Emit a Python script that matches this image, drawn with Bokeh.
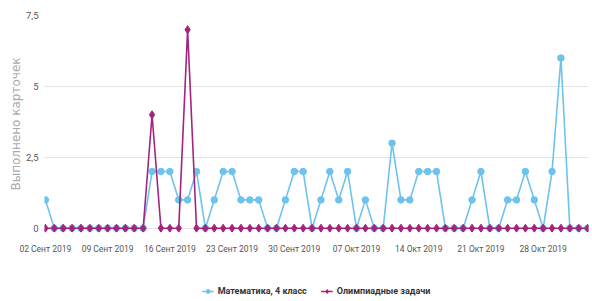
import pandas as pd
from bokeh.plotting import figure
from bokeh.models import FixedTicker, Legend, LegendItem, Range1d
from bokeh.layouts import column
from bokeh.embed import file_html
from bokeh.resources import INLINE

# ---- data ----
dates = [d.strftime("%Y-%m-%d") for d in pd.date_range("2019-09-02", "2019-11-02")]
math_values = [1, 0, 0, 0, 0, 0, 0, 0, 0, 0, 0, 0, 2, 2, 2, 1, 1, 2, 0, 1,
               2, 2, 1, 1, 1, 0, 0, 1, 2, 2, 0, 1, 2, 1, 2, 0, 1, 0, 0, 3,
               1, 1, 2, 2, 2, 0, 0, 0, 1, 2, 0, 0, 1, 1, 2, 1, 0, 2, 6, 0,
               0, 0]
olymp_values = [0, 0, 0, 0, 0, 0, 0, 0, 0, 0, 0, 0, 4, 0, 0, 0, 7, 0, 0, 0,
                0, 0, 0, 0, 0, 0, 0, 0, 0, 0, 0, 0, 0, 0, 0, 0, 0, 0, 0, 0,
                0, 0, 0, 0, 0, 0, 0, 0, 0, 0, 0, 0, 0, 0, 0, 0, 0, 0, 0, 0,
                0, 0]
tick_dates = ["2019-09-02", "2019-09-09", "2019-09-16", "2019-09-23", "2019-09-30",
              "2019-10-07", "2019-10-14", "2019-10-21", "2019-10-28"]
tick_labels = ["02 Сент 2019", "09 Сент 2019", "16 Сент 2019", "23 Сент 2019",
               "30 Сент 2019", "07 Окт 2019", "14 Окт 2019", "21 Окт 2019", "28 Окт 2019"]
y_ticks = [0, 2.5, 5, 7.5]
y_tick_labels = ["0", "2,5", "5", "7,5"]
series_names = ["Математика, 4 класс", "Олимпиадные задачи"]
y_title = "Выполнено карточек"

BLUE = "#6cc3ee"
MAGENTA = "#a3237e"
FONT = "Roboto"
W = 590

x = list(range(len(dates)))

p = figure(width=W, height=282, output_backend="svg", toolbar_location=None,
           x_range=Range1d(-0.1, len(dates) - 1 + 0.1), y_range=Range1d(-0.15, 7.5),
           min_border_left=44, min_border_right=2, min_border_top=15, min_border_bottom=50)
p.outline_line_color = None
p.background_fill_color = "white"
p.border_fill_color = "white"

p.line(x, math_values, line_color=BLUE, line_width=1.6)
p.scatter(x, math_values, marker="circle", size=6.5, fill_color=BLUE, line_color=BLUE)
p.line(x, olymp_values, line_color=MAGENTA, line_width=1.6)
p.scatter(x, olymp_values, marker="diamond", size=8, fill_color=MAGENTA, line_color=MAGENTA)

# x axis
p.xaxis.ticker = FixedTicker(ticks=[dates.index(d) for d in tick_dates])
p.xaxis.major_label_overrides = {dates.index(d): lab for d, lab in zip(tick_dates, tick_labels)}
p.xaxis.axis_line_color = None
p.xaxis.major_tick_line_color = None
p.xaxis.minor_tick_line_color = None
p.xaxis.major_label_text_font = FONT
p.xaxis.major_label_text_font_size = "8.5px"
p.xaxis.major_label_text_color = "#555555"
p.xaxis.major_label_standoff = 5
p.xgrid.grid_line_color = None

# y axis
p.yaxis.ticker = FixedTicker(ticks=y_ticks)
p.yaxis.major_label_overrides = {t: lab for t, lab in zip(y_ticks, y_tick_labels)}
p.yaxis.axis_line_color = None
p.yaxis.major_tick_line_color = None
p.yaxis.minor_tick_line_color = None
p.yaxis.major_tick_in = 0
p.yaxis.major_tick_out = 0
p.yaxis.major_label_text_font = FONT
p.yaxis.major_label_text_font_size = "9.5px"
p.yaxis.major_label_text_color = "#555555"
p.yaxis.major_label_standoff = 6
p.yaxis.axis_label = y_title
p.yaxis.axis_label_text_font = "DejaVu Sans"
p.yaxis.axis_label_text_font_style = "normal"
p.yaxis.axis_label_text_font_size = "12px"
p.yaxis.axis_label_text_color = "#aaaaaa"
p.yaxis.axis_label_standoff = 0
p.ygrid.grid_line_color = "#e3e3e3"
p.ygrid.grid_line_width = 1

# legend strip (separate figure so it is not clipped); its glyphs sit outside its range
lf = figure(width=W, height=18, output_backend="svg", toolbar_location=None,
            x_range=Range1d(0, 1), y_range=Range1d(0, 1),
            x_axis_location=None, y_axis_location=None,
            min_border_left=0, min_border_right=0, min_border_top=0, min_border_bottom=0)
lf.outline_line_color = None
lf.xgrid.grid_line_color = None
lf.ygrid.grid_line_color = None
la = lf.line([-5, -4], [-5, -5], line_color=BLUE, line_width=1.6)
lb = lf.scatter([-5], [-5], marker="circle", size=6.5, fill_color=BLUE, line_color=BLUE)
lc = lf.line([-5, -4], [-5, -5], line_color=MAGENTA, line_width=1.6)
ld = lf.scatter([-5], [-5], marker="diamond", size=8, fill_color=MAGENTA, line_color=MAGENTA)

legend = Legend(items=[LegendItem(label=series_names[0], renderers=[la, lb]),
                       LegendItem(label=series_names[1], renderers=[lc, ld])],
                orientation="horizontal", location="center")
legend.label_text_font = FONT
legend.label_text_font_size = "9px"
legend.label_text_font_style = "bold"
legend.label_text_color = "#333333"
legend.glyph_width = 12
legend.glyph_height = 10
legend.spacing = 14
legend.label_standoff = 4
legend.label_height = 10
legend.border_line_color = None
legend.background_fill_alpha = 0
legend.margin = 0
legend.padding = 2
lf.add_layout(legend, "center")

open("out.html", "w").write(file_html(column(p, lf, spacing=0), INLINE))
